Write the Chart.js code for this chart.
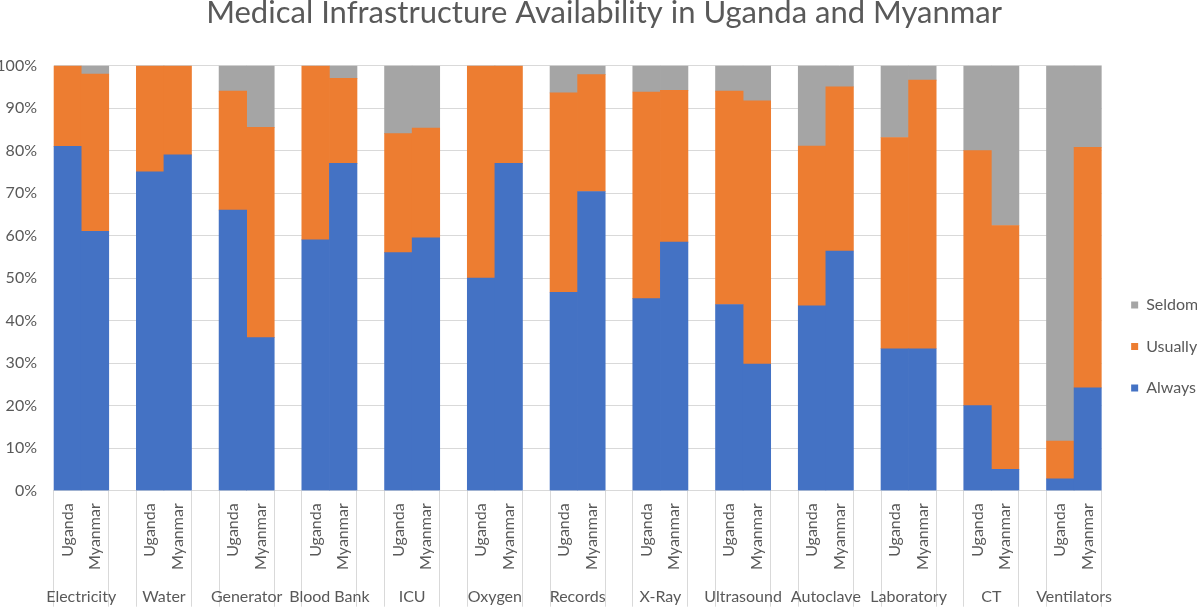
<!DOCTYPE html>
<html>
<head>
<meta charset="utf-8">
<script src="https://cdn.jsdelivr.net/npm/chart.js@4.4.1/dist/chart.umd.min.js"></script>
<style>
  html, body { margin: 0; padding: 0; background: #fff; }
  #wrap { width: 1197px; height: 607px; }
</style>
</head>
<body>
<div id="wrap"><canvas id="myChart"></canvas></div>
<script>
const groups = ["Electricity", "Water", "Generator", "Blood Bank", "ICU", "Oxygen", "Records",
  "X-Ray", "Ultrasound", "Autoclave", "Laboratory", "CT", "Ventilators"];
const countries = ["Uganda", "Myanmar"];

// percent of facilities
const alwaysUganda = [81, 75, 66, 59, 56, 50, 46.7, 45.2, 43.8, 43.5, 33.4, 20, 2.8];
const alwaysMyanmar = [61, 79, 36, 77, 59.5, 77, 70.4, 58.5, 29.8, 56.4, 33.4, 5, 24.2];
const usuallyUganda = [19, 25, 28, 41, 28, 50, 46.9, 48.6, 50.2, 37.6, 49.7, 60, 8.9];
const usuallyMyanmar = [37, 21, 49.5, 20, 25.8, 23, 27.5, 35.7, 61.9, 38.6, 63.2, 57.4, 56.6];
const seldomUganda = [0, 0, 6, 0, 16, 0, 6.4, 6.2, 6.0, 18.9, 16.9, 20, 88.3];
const seldomMyanmar = [2, 0, 14.5, 3, 14.7, 0, 2.1, 5.8, 8.3, 5.0, 3.4, 37.6, 19.2];

const yTicks = [0, 10, 20, 30, 40, 50, 60, 70, 80, 90, 100];

const textColor = "#595959";
const gridColor = "#d9d9d9";
const fontFamily = "Lato, 'Open Sans', sans-serif";

// one slot per country, an empty slot between groups
let labels = [];
function slots(ug, my) {
  let out = [];
  for (let i = 0; i < groups.length; i++) {
    if (i > 0) out.push(null);
    out.push(ug[i]);
    out.push(my[i]);
  }
  return out;
}
for (let i = 0; i < groups.length; i++) {
  if (i > 0) labels.push("");
  labels.push(countries[0]);
  labels.push(countries[1]);
}

// group names under each pair of bars
const groupLabels = {
  id: "groupLabels",
  afterDraw(chart) {
    let ctx = chart.ctx;
    let x = chart.scales.x;
    ctx.save();
    ctx.fillStyle = textColor;
    ctx.font = "16px " + fontFamily;
    ctx.textAlign = "center";
    ctx.textBaseline = "middle";
    for (let g = 0; g < groups.length; g++) {
      let a = x.getPixelForValue(g * 3);
      let b = x.getPixelForValue(g * 3 + 1);
      ctx.fillText(groups[g], (a + b) / 2, 597);
    }
    ctx.restore();
  }
};

let ctx = document.getElementById("myChart").getContext("2d");
let myChart = new Chart(ctx, {
  type: "bar",
  data: {
    labels: labels,
    datasets: [
      {
        label: "Always",
        data: slots(alwaysUganda, alwaysMyanmar),
        backgroundColor: "#4472c4",
      },
      {
        label: "Usually",
        data: slots(usuallyUganda, usuallyMyanmar),
        backgroundColor: "#ed7d31",
      },
      {
        label: "Seldom",
        data: slots(seldomUganda, seldomMyanmar),
        backgroundColor: "#a5a5a5",
      },
    ],
  },
  options: {
    responsive: true,
    maintainAspectRatio: false,
    animation: false,
    layout: { padding: { left: 0, right: -11.2, top: 0, bottom: 0 } },
    datasets: {
      bar: { barPercentage: 1, categoryPercentage: 1, borderWidth: 0 },
    },
    plugins: {
      title: {
        display: true,
        text: "Medical Infrastructure Availability in Uganda and Myanmar",
        color: textColor,
        font: { family: fontFamily, size: 31, weight: "normal", lineHeight: 0.87 },
        padding: { top: 0, bottom: 38.7 },
      },
      legend: {
        position: "right",
        reverse: true,
        // empty title only pushes the items down
        title: { display: true, text: "", padding: { top: 64, bottom: 0 }, font: { size: 22, lineHeight: 1 } },
        labels: {
          boxWidth: 7,
          boxHeight: 7,
          padding: 25.5,
          color: textColor,
          font: { family: fontFamily, size: 16 },
        },
      },
      tooltip: { enabled: false },
    },
    scales: {
      x: {
        stacked: true,
        grid: {
          offset: true,
          drawOnChartArea: false,
          drawTicks: true,
          tickLength: 116,
          color: (c) => (c.index !== undefined && labels[c.index] === "Myanmar" ? "rgba(0,0,0,0)" : gridColor),
        },
        border: { color: gridColor },
        ticks: {
          autoSkip: false,
          minRotation: 90,
          maxRotation: 90,
          padding: -103.4,
          color: textColor,
          font: { family: fontFamily, size: 16 },
        },
        afterFit: (scale) => { scale.height = 116.3; },
      },
      y: {
        stacked: true,
        min: 0,
        max: 100,
        afterBuildTicks: (scale) => { scale.ticks = yTicks.map((v) => ({ value: v })); },
        grid: { color: gridColor, drawTicks: false },
        border: { display: false },
        ticks: {
          padding: 16.6,
          color: textColor,
          font: { family: fontFamily, size: 16 },
          callback: (v) => v + "%",
        },
        afterFit: (scale) => { scale.width = 53.6; },
      },
      // empty right axis, just a gap before the legend
      gap: {
        type: "linear",
        position: "right",
        grid: { display: false },
        border: { display: false },
        ticks: { display: false },
        afterFit: (scale) => { scale.width = 4; },
      },
    },
  },
  plugins: [groupLabels],
});
</script>
</body>
</html>
